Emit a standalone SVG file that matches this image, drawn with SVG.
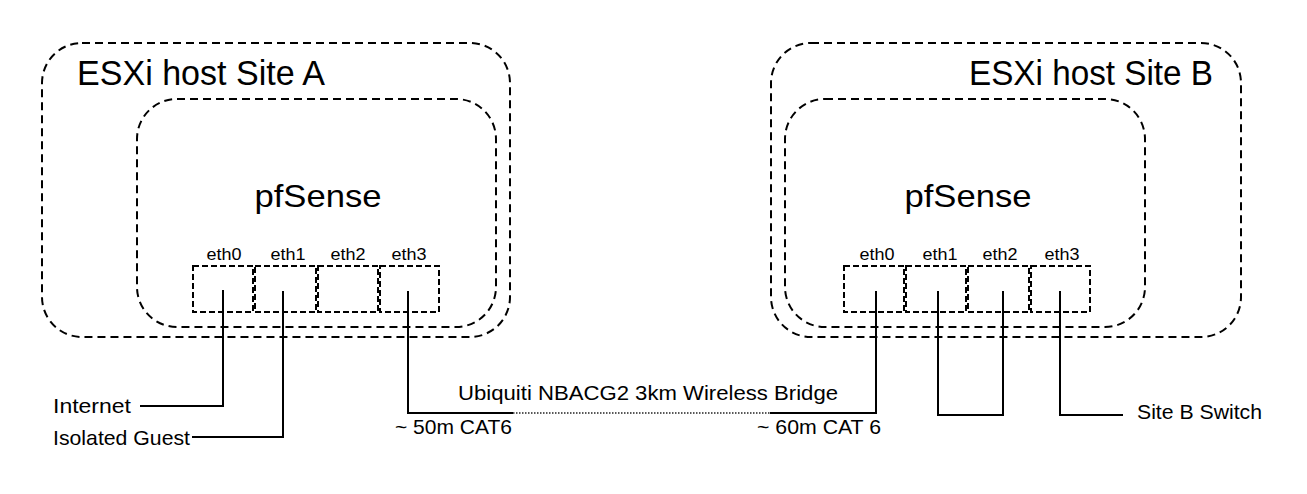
<svg xmlns="http://www.w3.org/2000/svg" width="1307" height="494" viewBox="0 0 1307 494">
<style>
.host{fill:none;stroke:#000;stroke-width:2;stroke-dasharray:8 5}
.vm{fill:none;stroke:#000;stroke-width:2;stroke-dasharray:8 5}
.port{fill:none;stroke:#000;stroke-width:2;stroke-dasharray:6 3}
.wire{fill:none;stroke:#000;stroke-width:2}
.radio{fill:none;stroke:#222;stroke-width:1.5;stroke-dasharray:1.5 1.5}
text{font-family:"Liberation Sans",Arial,sans-serif;fill:#000}
.big{font-size:35px}
.pf{font-size:32px;text-anchor:middle}
.eth{font-size:16px;text-anchor:middle}
.lbl{font-size:21px}
</style>
<rect width="1307" height="494" fill="#fff"/>
<g id="hostA">
<rect class="host" x="42" y="43" width="468" height="294" rx="40" ry="40"/>
<text class="big" x="77" y="85" textLength="248" lengthAdjust="spacingAndGlyphs">ESXi host Site A</text>
</g>
<g id="pfsenseA">
<rect class="vm" x="137" y="99" width="359" height="228" rx="40" ry="40"/>
<text class="pf" x="318" y="207" textLength="127" lengthAdjust="spacingAndGlyphs">pfSense</text>
</g>
<g id="portsA">
<rect class="port" x="193" y="266" width="60" height="46"/>
<rect class="port" x="255" y="266" width="61" height="46"/>
<rect class="port" x="318" y="266" width="60" height="46"/>
<rect class="port" x="380" y="266" width="59" height="46"/>
<text class="eth" x="224" y="260" textLength="35" lengthAdjust="spacingAndGlyphs">eth0</text>
<text class="eth" x="288" y="260" textLength="35" lengthAdjust="spacingAndGlyphs">eth1</text>
<text class="eth" x="348" y="260" textLength="35" lengthAdjust="spacingAndGlyphs">eth2</text>
<text class="eth" x="409" y="260" textLength="35" lengthAdjust="spacingAndGlyphs">eth3</text>
</g>
<g id="hostB">
<rect class="host" x="771" y="43" width="470" height="294" rx="40" ry="40"/>
<text class="big" x="969" y="85" textLength="244" lengthAdjust="spacingAndGlyphs">ESXi host Site B</text>
</g>
<g id="pfsenseB">
<rect class="vm" x="785" y="99" width="360" height="228" rx="40" ry="40"/>
<text class="pf" x="968" y="207" textLength="127" lengthAdjust="spacingAndGlyphs">pfSense</text>
</g>
<g id="portsB">
<rect class="port" x="844" y="266" width="60" height="46"/>
<rect class="port" x="906" y="266" width="60" height="46"/>
<rect class="port" x="968" y="266" width="61" height="46"/>
<rect class="port" x="1031" y="266" width="59" height="46"/>
<text class="eth" x="877" y="260" textLength="35" lengthAdjust="spacingAndGlyphs">eth0</text>
<text class="eth" x="940" y="260" textLength="35" lengthAdjust="spacingAndGlyphs">eth1</text>
<text class="eth" x="1000" y="260" textLength="35" lengthAdjust="spacingAndGlyphs">eth2</text>
<text class="eth" x="1062" y="260" textLength="35" lengthAdjust="spacingAndGlyphs">eth3</text>
</g>
<g id="connectors">
<polyline class="wire" points="223,290 223,406 140,406"/>
<polyline class="wire" points="283,291 283,437 192,437"/>
<polyline class="wire" points="408,291 408,413 513,413"/>
<line class="radio" x1="513" y1="413" x2="770" y2="413"/>
<polyline class="wire" points="770,413 876,413 876,291"/>
<polyline class="wire" points="938,291 938,415 1003,415 1003,291"/>
<polyline class="wire" points="1060,291 1060,415 1123,415"/>
</g>
<g id="labels">
<text class="lbl" x="53" y="413" textLength="78" lengthAdjust="spacingAndGlyphs">Internet</text>
<text class="lbl" x="53" y="445" textLength="137" lengthAdjust="spacingAndGlyphs">Isolated Guest</text>
<text class="lbl" x="458" y="400" textLength="380" lengthAdjust="spacingAndGlyphs">Ubiquiti NBACG2 3km Wireless Bridge</text>
<text class="lbl" x="395" y="434" textLength="117" lengthAdjust="spacingAndGlyphs">~ 50m CAT6</text>
<text class="lbl" x="757" y="434" textLength="124" lengthAdjust="spacingAndGlyphs">~ 60m CAT 6</text>
<text class="lbl" x="1137" y="419" textLength="125" lengthAdjust="spacingAndGlyphs">Site B Switch</text>
</g>
</svg>
